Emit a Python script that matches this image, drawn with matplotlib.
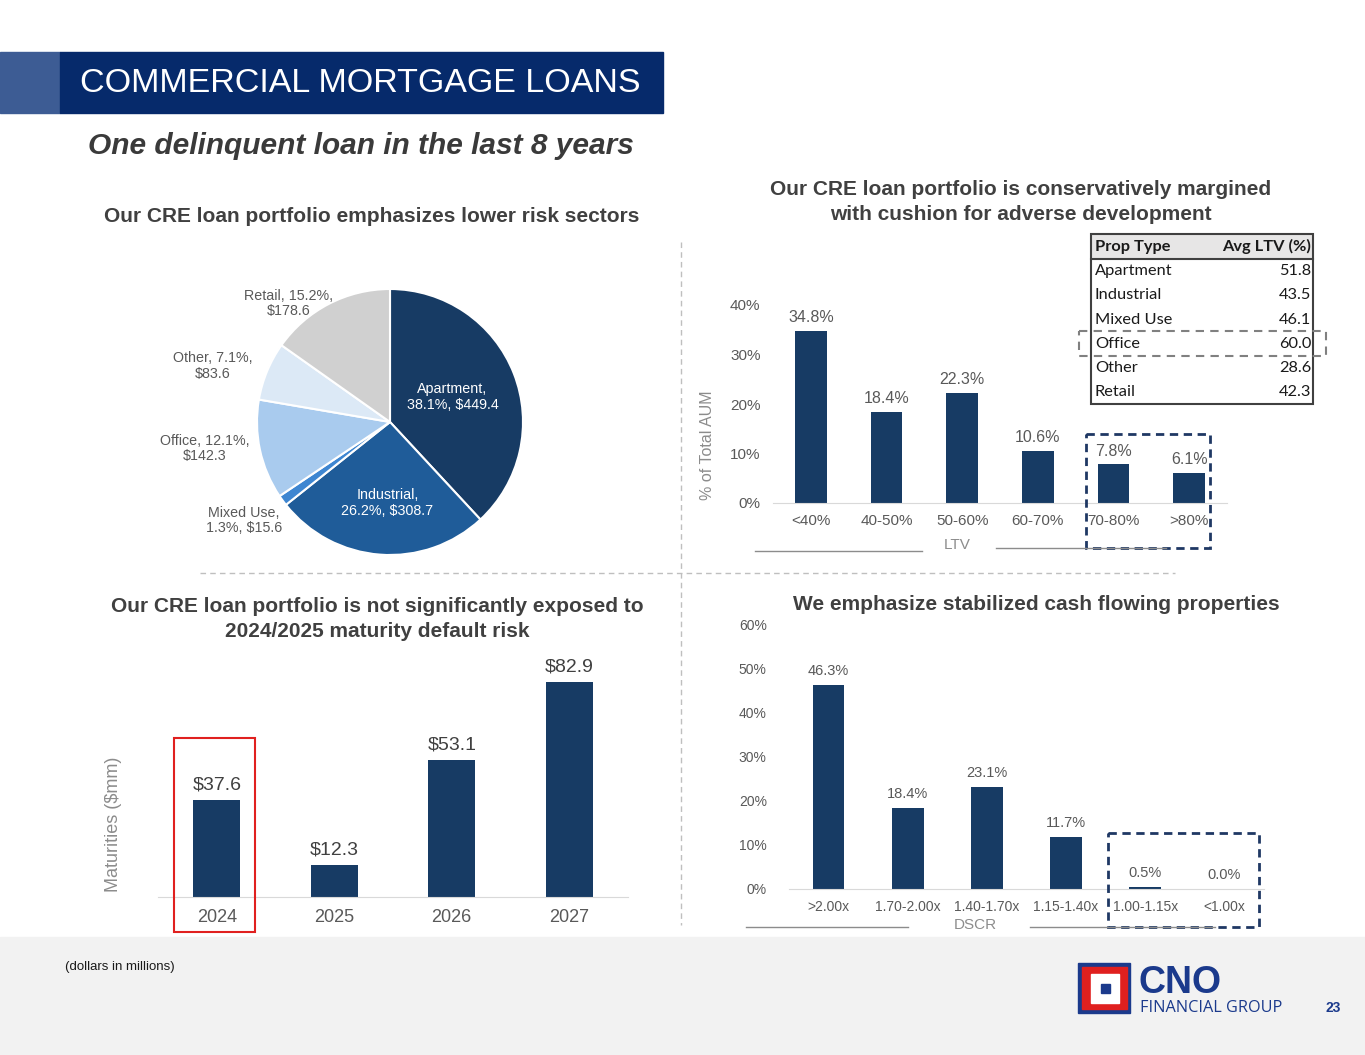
import matplotlib.pyplot as plt
from matplotlib.patches import Rectangle

plt.rcParams['font.family'] = ['Liberation Sans', 'DejaVu Sans']

# sector mix (pie)
sectors = ['Apartment', 'Industrial', 'Mixed Use', 'Office', 'Other', 'Retail']
sector_pct = [38.1, 26.2, 1.3, 12.1, 7.1, 15.2]
sector_amt = [449.4, 308.7, 15.6, 142.3, 83.6, 178.6]

# LTV distribution
ltv_bins = ['<40%', '40-50%', '50-60%', '60-70%', '70-80%', '>80%']
ltv_pct = [34.8, 18.4, 22.3, 10.6, 7.8, 6.1]

# avg LTV by property type (table)
prop_types = ['Apartment', 'Industrial', 'Mixed Use', 'Office', 'Other', 'Retail']
avg_ltv = [51.8, 43.5, 46.1, 60.0, 28.6, 42.3]

# maturities
years = ['2024', '2025', '2026', '2027']
maturities = [37.6, 12.3, 53.1, 82.9]

# DSCR distribution
dscr_bins = ['>2.00x', '1.70-2.00x', '1.40-1.70x', '1.15-1.40x', '1.00-1.15x', '<1.00x']
dscr_pct = [46.3, 18.4, 23.1, 11.7, 0.5, 0.0]

W, H = 1365, 1055
NAVY = '#173B64'
GRAY = '#595959'
TITLE = '#404040'

fig = plt.figure(figsize=(W / 100, H / 100), dpi=100)
fig.patch.set_facecolor('white')


def ax_px(x0, y0, x1, y1):
    return fig.add_axes([x0 / W, 1 - y1 / H, (x1 - x0) / W, (y1 - y0) / H])


def bar_style(ax):
    for s in ['top', 'right', 'left']:
        ax.spines[s].set_visible(False)
    ax.spines['bottom'].set_color('#D9D9D9')
    ax.patch.set_alpha(0)
    ax.tick_params(length=0, colors=GRAY)


# ---------- pie ----------
axp = ax_px(257, 289, 523, 555)
colors = ['#173B64', '#1F5C99', '#3E86D1', '#A9CBEE', '#DCE9F6', '#D0D0D0']
axp.pie(sector_pct, colors=colors, startangle=90, counterclock=False,
        wedgeprops=dict(edgecolor='white', linewidth=1.5))
axp.set_xlim(-1, 1)
axp.set_ylim(-1, 1)
lab_pos = [(0.47, 0.19), (-0.02, -0.61), (-1.10, -0.74), (-1.39, -0.20), (-1.33, 0.42), (-0.76, 0.89)]
for i, name in enumerate(sectors):
    if i in (0, 1, 2):
        txt = f'{name},\n{sector_pct[i]}%, ${sector_amt[i]}'
    else:
        txt = f'{name}, {sector_pct[i]}%,\n${sector_amt[i]}'
    c = 'white' if i < 2 else GRAY
    axp.text(lab_pos[i][0], lab_pos[i][1], txt, ha='center', va='center',
             fontsize=10.3, color=c, linespacing=1.15)

# ---------- LTV bars ----------
axl = ax_px(773, 305, 1227, 503)
axl.bar(range(len(ltv_bins)), ltv_pct, width=0.42, color=NAVY)
axl.set_xlim(-0.5, 5.5)
axl.set_ylim(0, 40)
axl.set_yticks([0, 10, 20, 30, 40])
axl.set_yticklabels([f'{v}%' for v in [0, 10, 20, 30, 40]], fontsize=11)
axl.set_xticks(range(len(ltv_bins)))
axl.set_xticklabels(ltv_bins, fontsize=11)
bar_style(axl)
axl.tick_params(axis='y', pad=9)
axl.tick_params(axis='x', pad=8)
axl.set_ylabel('% of Total AUM', fontsize=11.5, color='#8C8C8C')
axl.yaxis.set_label_coords(-0.128, 0.29)
for i, v in enumerate(ltv_pct):
    axl.annotate(f'{v}%', (i, v), xytext=(0, 9.4), textcoords='offset points',
                 ha='center', va='center', fontsize=11.5, color=GRAY)

# ---------- maturities ----------
axm = ax_px(158, 664, 628, 897)
axm.bar(range(len(years)), maturities, width=0.40, color=NAVY)
axm.set_xlim(-0.5, 3.5)
axm.set_ylim(0, 90)
axm.set_yticks([])
axm.set_xticks(range(len(years)))
axm.set_xticklabels(years, fontsize=13, color=GRAY)
bar_style(axm)
axm.tick_params(axis='x', pad=9)
axm.set_ylabel('Maturities ($mm)', fontsize=13, color='#8C8C8C')
axm.yaxis.set_label_coords(-0.076, 0.31)
for i, v in enumerate(maturities):
    axm.annotate(f'${v}', (i, v), xytext=(0, 10.8), textcoords='offset points',
                 ha='center', va='center', fontsize=14, color=TITLE)

# ---------- DSCR ----------
axd = ax_px(789, 624, 1264, 889)
axd.bar(range(len(dscr_bins)), dscr_pct, width=0.40, color=NAVY)
axd.set_xlim(-0.5, 5.5)
axd.set_ylim(0, 60)
axd.set_yticks(range(0, 61, 10))
axd.set_yticklabels([f'{v}%' for v in range(0, 61, 10)], fontsize=10)
axd.set_xticks(range(len(dscr_bins)))
axd.set_xticklabels(dscr_bins, fontsize=10)
bar_style(axd)
axd.tick_params(axis='y', pad=16)
axd.tick_params(axis='x', pad=8)
for i, v in enumerate(dscr_pct):
    axd.annotate(f'{v}%', (i, v), xytext=(0, 10), textcoords='offset points',
                 ha='center', va='center', fontsize=10.5, color=GRAY)

# ---------- overlay: header, titles, boxes, table, footer ----------
ov = ax_px(0, 0, W, H)
ov.set_xlim(0, W)
ov.set_ylim(H, 0)
ov.axis('off')
ov.patch.set_alpha(0)
ov.set_zorder(10)

ov.add_patch(Rectangle((0, 52), 60, 61, color='#3D5C94'))
ov.add_patch(Rectangle((60, 52), 603, 61, color='#062A6B'))
ov.text(80, 84, 'COMMERCIAL MORTGAGE LOANS', color='white', fontsize=24.5, va='center')
ov.text(88, 146, 'One delinquent loan in the last 8 years', color='#3A3A3A', fontsize=21.5,
        fontweight='bold', fontstyle='italic', va='center')

ov.text(372, 216, 'Our CRE loan portfolio emphasizes lower risk sectors', ha='center', va='center',
        fontsize=15, fontweight='bold', color=TITLE)
ov.text(1021, 202, 'Our CRE loan portfolio is conservatively margined\nwith cushion for adverse development',
        ha='center', va='center', fontsize=15, fontweight='bold', color=TITLE, linespacing=1.38)
ov.text(377, 619, 'Our CRE loan portfolio is not significantly exposed to\n2024/2025 maturity default risk',
        ha='center', va='center', fontsize=15, fontweight='bold', color=TITLE, linespacing=1.38)
ov.text(1036, 604, 'We emphasize stabilized cash flowing properties', ha='center', va='center',
        fontsize=15, fontweight='bold', color=TITLE)

# dividers
ov.plot([681, 681], [242, 925], color='#BFBFBF', lw=1, ls=(0, (4, 3)))
ov.plot([200, 1175], [573, 573], color='#BFBFBF', lw=1, ls=(0, (4, 3)))

# axis captions
ov.text(957, 545, 'LTV', ha='center', va='center', fontsize=11, color='#8C8C8C')
ov.plot([755, 922], [551, 551], color='#8C8C8C', lw=1)
ov.plot([996, 1166], [548, 548], color='#8C8C8C', lw=1)
ov.text(975, 925, 'DSCR', ha='center', va='center', fontsize=11, color='#8C8C8C')
ov.plot([746, 908], [927, 927], color='#8C8C8C', lw=1)
ov.plot([1030, 1215], [927, 927], color='#8C8C8C', lw=1)

# highlight boxes
ov.add_patch(Rectangle((1086, 434), 124, 114, fill=False, ec='#1F3864', lw=2, ls=(0, (3, 2))))
ov.add_patch(Rectangle((1108, 833), 151, 94, fill=False, ec='#1F3864', lw=2, ls=(0, (3, 2))))
ov.add_patch(Rectangle((174, 738), 81, 194, fill=False, ec='#E0201F', lw=1.5))

# table
tx0, tx1, ty0 = 1091, 1313, 234
hdr_h, row_h = 25, 24.2
ov.add_patch(Rectangle((tx0, ty0), tx1 - tx0, hdr_h, fc='#E7E6E6', ec='none'))
tf = ['Lato', 'DejaVu Sans']
ov.text(tx0 + 4, ty0 + hdr_h / 2, 'Prop Type', family=tf, fontsize=11.8, fontweight='bold',
        va='center', color='#1A1A1A')
ov.text(tx1 - 2, ty0 + hdr_h / 2, 'Avg LTV (%)', family=tf, fontsize=11.8, fontweight='bold',
        va='center', ha='right', color='#1A1A1A')
for i, (p, v) in enumerate(zip(prop_types, avg_ltv)):
    yc = ty0 + hdr_h + row_h * (i + 0.5)
    ov.text(tx0 + 4, yc, p, family=tf, fontsize=11.8, va='center', color='#1A1A1A')
    ov.text(tx1 - 2, yc, f'{v:.1f}', family=tf, fontsize=11.8, va='center', ha='right', color='#1A1A1A')
tbl_h = hdr_h + row_h * len(prop_types)
ov.add_patch(Rectangle((tx0, ty0), tx1 - tx0, tbl_h, fill=False, ec='#404040', lw=1.5))
ov.plot([tx0, tx1], [ty0 + hdr_h, ty0 + hdr_h], color='#404040', lw=1.5)
ov.add_patch(Rectangle((1079, 331), 247, 25, fill=False, ec='#808080', lw=1.5, ls=(0, (4, 3))))

# footer
ov.add_patch(Rectangle((0, 937), W, H - 937, color='#F2F2F2', zorder=0))
ov.text(65, 967, '(dollars in millions)', fontsize=9.5, va='center', color='#1A1A1A')
ov.text(1333, 1008, '23', fontsize=10, fontweight='bold', va='center', ha='center', color='#1B3A8C')
ov.add_patch(Rectangle((1078, 963), 52, 50, color='#1B3A8C'))
ov.add_patch(Rectangle((1082, 967), 45, 42, color='#E0201F'))
ov.add_patch(Rectangle((1091, 974), 28, 29, color='white'))
ov.add_patch(Rectangle((1101, 984), 9, 9, color='#1B3A8C'))
ov.text(1139, 983, 'CNO', fontsize=27, fontweight='bold', va='center', color='#1B3A8C')
ov.text(1140, 1008, 'FINANCIAL GROUP', family=['Open Sans', 'DejaVu Sans'], fontsize=11.7,
        va='center', color='#1B3A8C')

fig.savefig('out.png', dpi=100)
